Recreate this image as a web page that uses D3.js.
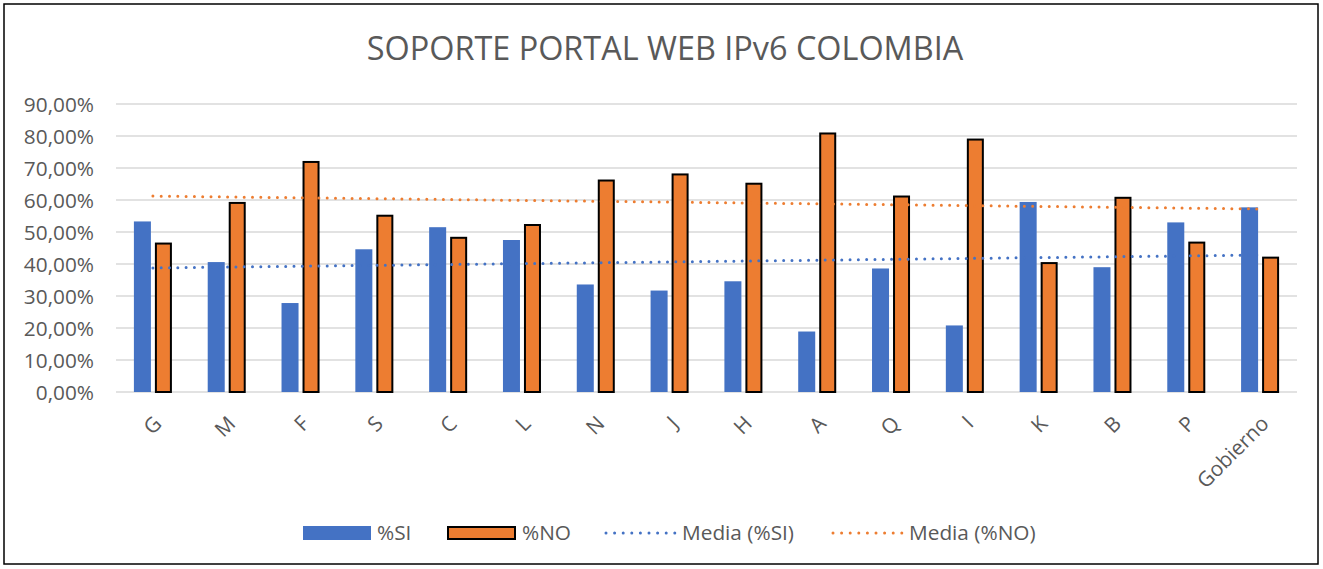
<!DOCTYPE html>
<html>
<head>
<meta charset="utf-8">
<script src="https://d3js.org/d3.v7.min.js"></script>
<style>
  body { margin: 0; background: #fff; }
  text { font-family: "Open Sans", sans-serif; fill: #595959; }
</style>
</head>
<body>
<div id="chart"></div>
<script>
// data
var categories = ["G", "M", "F", "S", "C", "L", "N", "J", "H", "A", "Q", "I", "K", "B", "P", "Gobierno"];
var pctSi = [53.3, 40.6, 27.8, 44.6, 51.5, 47.5, 33.6, 31.7, 34.6, 18.9, 38.6, 20.8, 59.4, 39.0, 53.0, 57.7];
var pctNo = [46.7, 59.4, 72.2, 55.4, 48.5, 52.5, 66.4, 68.3, 65.4, 81.1, 61.4, 79.2, 40.6, 61.0, 47.0, 42.3];
var yTicks = [0, 10, 20, 30, 40, 50, 60, 70, 80, 90];

var W = 1323, H = 569;
var blue = "#4472C4", orange = "#ED7D31";
var plotLeft = 116, plotRight = 1297, plotTop = 104, plotBottom = 392;

var svg = d3.select("#chart").append("svg")
    .attr("width", W)
    .attr("height", H);

// outer frame
svg.append("rect")
    .attr("x", 4).attr("y", 4)
    .attr("width", 1314).attr("height", 560)
    .attr("fill", "#fff")
    .attr("stroke", "#000")
    .attr("stroke-width", 1.5);

svg.append("text")
    .attr("x", 665)
    .attr("y", 60)
    .attr("text-anchor", "middle")
    .attr("font-size", "32.4px")
    .text("SOPORTE PORTAL WEB IPv6 COLOMBIA");

var x0 = d3.scaleBand().domain(categories).range([plotLeft, plotRight])
    .paddingInner(0.485).paddingOuter(0.2425);
var x1 = d3.scaleBand().domain(["si", "no"]).range([0, x0.bandwidth()])
    .paddingInner(0.19);
var y = d3.scaleLinear().domain([0, 90]).range([plotBottom, plotTop]);

// gridlines
svg.append("g").selectAll("line")
    .data(yTicks)
    .enter().append("line")
    .attr("x1", plotLeft).attr("x2", plotRight)
    .attr("y1", d => y(d)).attr("y2", d => y(d))
    .attr("stroke", "#d9d9d9")
    .attr("stroke-width", 1.3);

// y labels
svg.append("g").selectAll("text")
    .data(yTicks)
    .enter().append("text")
    .attr("x", 94)
    .attr("y", d => y(d) + 7.5)
    .attr("text-anchor", "end")
    .attr("font-size", "20.8px")
    .text(d => d3.format(".2f")(d).replace(".", ",") + "%");

var rows = categories.map((c, i) => ({cat: c, si: pctSi[i], no: pctNo[i]}));

// bars
svg.append("g").selectAll("rect")
    .data(rows)
    .enter().append("rect")
    .attr("x", d => x0(d.cat) + x1("si"))
    .attr("width", x1.bandwidth())
    .attr("y", d => y(d.si))
    .attr("height", d => y(0) - y(d.si))
    .attr("fill", blue);

svg.append("g").selectAll("rect")
    .data(rows)
    .enter().append("rect")
    .attr("x", d => x0(d.cat) + x1("no") + 1)
    .attr("width", x1.bandwidth() - 2)
    .attr("y", d => y(d.no) + 1)
    .attr("height", d => y(0) - y(d.no) - 1)
    .attr("fill", orange)
    .attr("stroke", "#000")
    .attr("stroke-width", 2);

// linear trend lines (least squares over the category index)
function trend(vals) {
    var n = vals.length, mx = (n - 1) / 2, my = d3.mean(vals);
    var sxy = d3.sum(vals, (v, i) => (i - mx) * (v - my));
    var sxx = d3.sum(vals, (v, i) => (i - mx) * (i - mx));
    var b = sxy / sxx;
    return vals.map((v, i) => my + b * (i - mx));
}

var cx = c => x0(c) + x0.bandwidth() / 2;
var line = d3.line().x(d => cx(d[0])).y(d => y(d[1]));

[[pctSi, blue], [pctNo, orange]].forEach(function(s) {
    var t = trend(s[0]);
    svg.append("path")
        .attr("d", line([[categories[0], t[0]], [categories[t.length - 1], t[t.length - 1]]]))
        .attr("fill", "none")
        .attr("stroke", s[1])
        .attr("stroke-width", 3)
        .attr("stroke-linecap", "round")
        .attr("stroke-dasharray", "0 8.3");
});

// x labels
svg.append("g").selectAll("text")
    .data(categories)
    .enter().append("text")
    .attr("text-anchor", "end")
    .attr("font-size", "20.8px")
    .attr("transform", d => "translate(" + (cx(d) + 10) + ",425) rotate(-45)")
    .text(d => d);

// legend
var lg = svg.append("g");
lg.append("rect").attr("x", 303).attr("y", 526).attr("width", 68).attr("height", 14).attr("fill", blue);
lg.append("text").attr("x", 377).attr("y", 540).attr("font-size", "20.8px").text("%SI");
lg.append("rect").attr("x", 448).attr("y", 527).attr("width", 67).attr("height", 12)
    .attr("fill", orange).attr("stroke", "#000").attr("stroke-width", 2);
lg.append("text").attr("x", 522).attr("y", 540).attr("font-size", "20.8px").text("%NO");
lg.append("line").attr("x1", 606).attr("x2", 676).attr("y1", 533).attr("y2", 533)
    .attr("stroke", blue).attr("stroke-width", 3).attr("stroke-linecap", "round")
    .attr("stroke-dasharray", "0 8.6");
lg.append("text").attr("x", 682).attr("y", 540).attr("font-size", "20.8px").text("Media (%SI)");
lg.append("line").attr("x1", 833).attr("x2", 903).attr("y1", 533).attr("y2", 533)
    .attr("stroke", orange).attr("stroke-width", 3).attr("stroke-linecap", "round")
    .attr("stroke-dasharray", "0 8.6");
lg.append("text").attr("x", 909).attr("y", 540).attr("font-size", "20.8px").text("Media (%NO)");
</script>
</body>
</html>
